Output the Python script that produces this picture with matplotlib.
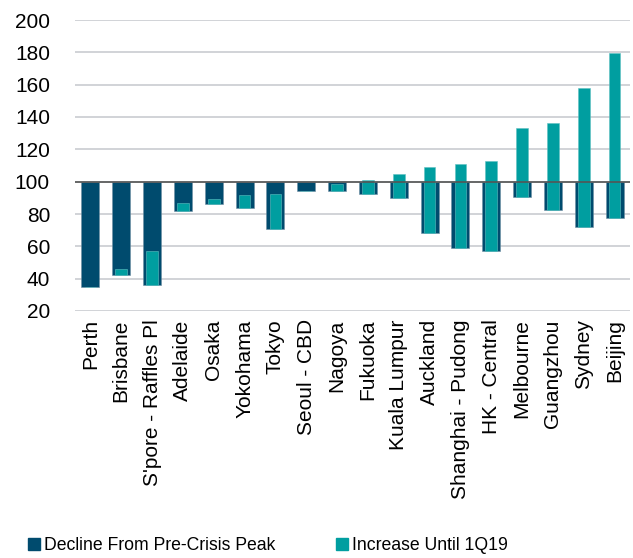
import matplotlib
matplotlib.use("Agg")
import matplotlib.pyplot as plt
from matplotlib.patches import Patch

plt.rcParams["font.family"] = ["Liberation Sans", "DejaVu Sans"]

# ── data ──────────────────────────────────────────────────────────
cities = [
    "Perth", "Brisbane", "S'pore - Raffles Pl", "Adelaide", "Osaka", "Yokohama",
    "Tokyo", "Seoul - CBD", "Nagoya", "Fukuoka", "Kuala Lumpur", "Auckland",
    "Shanghai - Pudong", "HK - Central", "Melbourne", "Guangzhou", "Sydney", "Beijing",
]
# trough index (pre-crisis peak = 100)
trough = [35, 42, 36, 82, 86, 84, 71, 94, 94, 92.4, 90, 68.4, 59, 57.3, 90.6, 82.5, 72, 77.4]
# index level at 1Q19
current = [35, 46, 57, 86.6, 89.5, 92, 92.6, 94.5, 98.6, 101, 104.7, 108.8, 111, 112.5, 132.9, 136.4, 158, 179.3]

BASE = 100
DARK = "#004b6e"
TEAL = "#009ea0"
FS = 15

fig = plt.figure(figsize=(6.33, 5.58), dpi=100)
ax = fig.add_axes([75 / 633, 1 - 311 / 558, 555 / 633, 291 / 558])

x = list(range(len(cities)))
ax.bar(x, [BASE - t for t in trough], bottom=trough, width=0.58,
       color=DARK, edgecolor="#6f8fa3", linewidth=0.4, zorder=2)
ax.bar(x, [c - t for c, t in zip(current, trough)], bottom=trough, width=0.38,
       color=TEAL, edgecolor="#5fc0c2", linewidth=0.4, zorder=3)
ax.axhline(BASE, color="#555555", lw=1.2, zorder=4)

ax.set_ylim(20, 200)
ax.set_xlim(-0.5, len(cities) - 0.5)
ax.set_yticks(range(20, 201, 20))
ax.yaxis.grid(True, color="#c9ccd1", lw=1.2, zorder=0)
ax.set_axisbelow(True)
for s in ax.spines.values():
    s.set_visible(False)
ax.tick_params(axis="y", length=0, labelsize=FS, colors="#000000", pad=18)
ax.set_xticks(x)
ax.set_xticklabels(cities, rotation=90, fontsize=FS)
ax.tick_params(axis="x", length=0, pad=6)

# two separate legend entries, placed like the original
for lab, col, xa in [("Decline From Pre-Crisis Peak", DARK, 28 / 633),
                     ("Increase Until 1Q19", TEAL, 336 / 633)]:
    leg = fig.legend(handles=[Patch(color=col, label=lab)], loc="center left",
                     bbox_to_anchor=(xa, 0.022), frameon=False, fontsize=12.7,
                     handlelength=0.7, handleheight=0.7, handletextpad=0.2,
                     borderpad=0, borderaxespad=0)

fig.savefig("out.png", dpi=100)
